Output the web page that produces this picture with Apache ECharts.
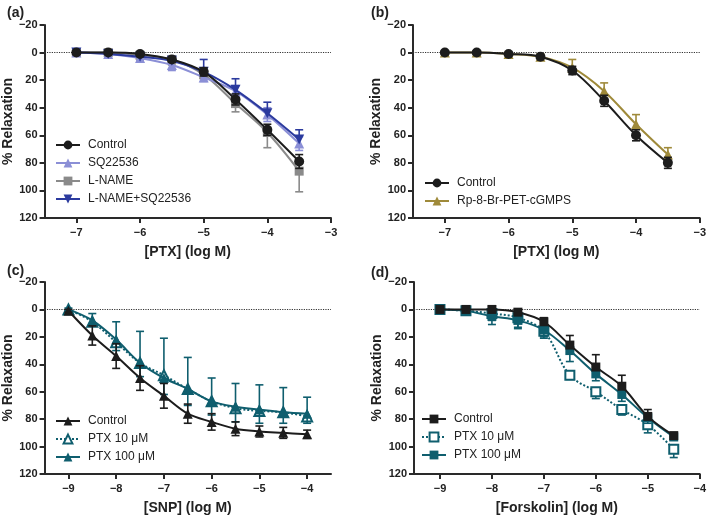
<!DOCTYPE html>
<html><head><meta charset="utf-8">
<script src="https://cdn.jsdelivr.net/npm/echarts@6/dist/echarts.min.js"></script>
<style>html,body{margin:0;padding:0;background:#fff}#c{width:709px;height:519px}</style>
</head><body><div id="c"></div>
<script>
// ---------- DATA ----------
// Panel (a)
const xA = [-7, -6.5, -6, -5.5, -5, -4.5, -4, -3.5];
const aControl = [0, 0, 1, 5, 14, 34, 56, 79];
const aControlErr = [1, 1, 1, 2, 3, 4, 4, 5];
const aSQ = [0, 1, 4, 9, 18, 28, 45, 66];
const aSQErr = [1, 1, 2, 4, 3, 4, 5, 5];
const aLNAME = [0, 0, 2, 5, 16, 37, 58, 86];
const aLNAMEErr = [1, 1, 1, 4, 3, 6, 11, 15];
const aLNSQ = [0, 1, 3, 6, 14, 27, 44, 63];
const aLNSQErr = [1, 1, 2, 3, 9, 8, 8, 7];
// Panel (b)
const xB = [-7, -6.5, -6, -5.5, -5, -4.5, -4, -3.5];
const bControl = [0, 0, 1, 3, 13, 35, 60, 80];
const bControlErr = [1, 1, 1, 1, 3, 4, 4, 4];
const bRp = [0, 0, 1, 3, 11, 28, 52, 74];
const bRpErr = [1, 1, 1, 2, 6, 6, 7, 5];
// Panel (c)
const xC = [-9, -8.5, -8, -7.5, -7, -6.5, -6, -5.5, -5, -4.5, -4];
const cControl = [1, 19, 34, 50, 63, 76, 82, 87, 89, 90, 91];
const cControlErr = [1, 7, 9, 9, 9, 7, 6, 5, 4, 4, 3];
const cPTX10 = [0, 9, 24, 39, 48, 58, 67, 72, 74, 75, 78];
const cPTX10Err = [1, 6, 15, 23, 27, 23, 17, 18, 19, 18, 14];
const cPTX100 = [0, 8, 22, 39, 50, 58, 67, 71, 73, 75, 76];
const cPTX100Err = [1, 4, 8, 10, 12, 12, 10, 11, 10, 8, 7];
// Panel (d)
const xD = [-9, -8.5, -8, -7.5, -7, -6.5, -6, -5.5, -5, -4.5];
const dControl = [0, 0, 0, 2, 9, 26, 42, 56, 78, 92];
const dControlErr = [1, 1, 2, 2, 3, 7, 9, 8, 5, 2];
const dPTX10 = [0, 1, 3, 6, 16, 48, 60, 73, 84, 102];
const dPTX10Err = [1, 1, 5, 7, 5, 3, 5, 4, 6, 6];
const dPTX100 = [0, 1, 5, 8, 15, 30, 47, 62, 79, 93];
const dPTX100Err = [1, 1, 6, 6, 5, 8, 5, 5, 4, 2];
// Tick labels
const yTicks = [-20, 0, 20, 40, 60, 80, 100, 120];
const xTicksAB = [-7, -6, -5, -4, -3];
const xTicksC = [-9, -8, -7, -6, -5, -4];
const xTicksD = [-9, -8, -7, -6, -5, -4];

// ---------- STYLE ----------
const BLACK = '#1c1c1c', PURPLE = '#8b8fd6', GRAY = '#8a8a8a', BLUE = '#2b3a9e', OLIVE = '#9f8a3a', TEAL = '#0f5e6e';
const AX = '#2a2a2a';
const FONT = 'Liberation Sans, Arial, Helvetica, sans-serif';
const INV_TRI = 'path://M0,0L10,0L5,9Z';
const fmt = v => String(v).replace('-', '\u2212');

const panels = [
  { title: '(a)', tPos: { left: 2, top: 1 }, grid: { left: 43, top: 25, width: 288, height: 193 },
    xMin: -7.5, xMax: -3, xTicks: xTicksAB, xName: '[PTX] (log M)', legend: { left: 55, top: 138 },
    series: [
      { name: 'a|Control', x: xA, y: aControl, e: aControlErr, side: 'both', color: BLACK, symbol: 'circle', z: 6 },
      { name: 'a|SQ22536', x: xA, y: aSQ, e: aSQErr, side: 'both', color: PURPLE, symbol: 'triangle', z: 4 },
      { name: 'a|L-NAME', x: xA, y: aLNAME, e: aLNAMEErr, side: 'down', color: GRAY, symbol: 'rect', z: 3 },
      { name: 'a|L-NAME+SQ22536', x: xA, y: aLNSQ, e: aLNSQErr, side: 'up', color: BLUE, symbol: INV_TRI, z: 5 }
    ] },
  { title: '(b)', tPos: { left: 366, top: 1 }, grid: { left: 413, top: 25, width: 288, height: 193 },
    xMin: -7.5, xMax: -3, xTicks: xTicksAB, xName: '[PTX] (log M)', legend: { left: 424, top: 176 },
    series: [
      { name: 'b|Control', x: xB, y: bControl, e: bControlErr, side: 'both', color: BLACK, symbol: 'circle', z: 6 },
      { name: 'b|Rp-8-Br-PET-cGMPS', x: xB, y: bRp, e: bRpErr, side: 'up', color: OLIVE, symbol: 'triangle', z: 4 }
    ] },
  { title: '(c)', tPos: { left: 2, top: 259 }, grid: { left: 43, top: 282, width: 288, height: 192 },
    xMin: -9.5, xMax: -3.5, xTicks: xTicksC, xName: '[SNP] (log M)', legend: { left: 55, top: 414 },
    series: [
      { name: 'c|Control', x: xC, y: cControl, e: cControlErr, side: 'both', color: BLACK, symbol: 'triangle', z: 6 },
      { name: 'c|PTX 10 \u03bcM', x: xC, y: cPTX10, e: cPTX10Err, side: 'up', color: TEAL, symbol: 'emptyTriangle', dotted: true, z: 4 },
      { name: 'c|PTX 100 \u03bcM', x: xC, y: cPTX100, e: cPTX100Err, side: 'down', color: TEAL, symbol: 'triangle', z: 5 }
    ] },
  { title: '(d)', tPos: { left: 366, top: 261 }, grid: { left: 414, top: 282, width: 287, height: 192 },
    xMin: -9.5, xMax: -4, xTicks: xTicksD, xName: '[Forskolin] (log M)', legend: { left: 421, top: 412 },
    series: [
      { name: 'd|Control', x: xD, y: dControl, e: dControlErr, side: 'up', color: BLACK, symbol: 'rect', z: 6 },
      { name: 'd|PTX 10 \u03bcM', x: xD, y: dPTX10, e: dPTX10Err, side: 'down', color: TEAL, symbol: 'emptyRect', dotted: true, z: 4 },
      { name: 'd|PTX 100 \u03bcM', x: xD, y: dPTX100, e: dPTX100Err, side: 'down', color: TEAL, symbol: 'rect', z: 5 }
    ] }
];

const option = {
  animation: false,
  backgroundColor: '#fff',
  textStyle: { fontFamily: FONT },
  title: [], grid: [], xAxis: [], yAxis: [], legend: [], series: []
};

panels.forEach((p, i) => {
  option.title.push({ text: p.title, left: p.tPos.left, top: p.tPos.top,
    textStyle: { fontSize: 14, fontWeight: 'bold', color: '#222', fontFamily: FONT } });
  option.grid.push(p.grid);
  option.xAxis.push({
    gridIndex: i, type: 'value', min: p.xMin, max: p.xMax,
    axisLine: { show: true, onZero: false, lineStyle: { color: AX, width: 2 } },
    axisTick: { show: true, customValues: p.xTicks, length: 5, lineStyle: { color: AX, width: 2 } },
    axisLabel: { customValues: p.xTicks, formatter: fmt, color: '#222', fontWeight: 'bold', fontSize: 11, margin: 9, fontFamily: FONT },
    splitLine: { show: false },
    name: p.xName, nameLocation: 'middle', nameGap: 27,
    nameTextStyle: { fontWeight: 'bold', fontSize: 14, color: '#222', fontFamily: FONT }
  });
  option.yAxis.push({
    gridIndex: i, type: 'value', inverse: true, min: -20, max: 120, interval: 20,
    axisLine: { show: true, onZero: false, lineStyle: { color: AX, width: 2 } },
    axisTick: { show: true, length: 5, lineStyle: { color: AX, width: 2 } },
    axisLabel: { formatter: fmt, color: '#222', fontWeight: 'bold', fontSize: 11, margin: 7, fontFamily: FONT },
    splitLine: { show: false },
    name: '% Relaxation', nameLocation: 'middle', nameGap: 27,
    nameTextStyle: { fontWeight: 'bold', fontSize: 14, color: '#222', fontFamily: FONT }
  });
  option.legend.push({
    orient: 'vertical', left: p.legend.left, top: p.legend.top, selectedMode: false,
    itemWidth: 24, itemHeight: 11, itemGap: 4, padding: 0,
    data: p.series.map(s => s.name),
    formatter: n => n.split('|')[1],
    textStyle: { fontSize: 12, color: '#222', lineHeight: 14, padding: [0, 0, 0, 3], fontFamily: FONT }
  });
  p.series.forEach((s, k) => {
    const ser = {
      type: 'line', name: s.name, xAxisIndex: i, yAxisIndex: i, z: s.z,
      data: s.x.map((xv, j) => [xv, s.y[j]]),
      smooth: 0.35, symbol: s.symbol, symbolSize: s.symbol === 'rect' || s.symbol === 'emptyRect' ? 9 : 10,
      showAllSymbol: true,
      lineStyle: { color: s.color, width: 2, type: s.dotted ? 'dotted' : 'solid' },
      itemStyle: s.symbol.indexOf('empty') === 0
        ? { color: s.color, borderColor: s.color, borderWidth: 2 }
        : { color: s.color, borderWidth: 0 },
      emphasis: { disabled: true }
    };
    if (k === 0) {
      ser.markLine = { silent: true, symbol: 'none', label: { show: false },
        lineStyle: { type: 'dotted', color: '#333', width: 1.2 }, data: [{ yAxis: 0 }] };
    }
    option.series.push(ser);
    const side = s.side, color = s.color;
    option.series.push({
      type: 'custom', xAxisIndex: i, yAxisIndex: i, z: s.z - 0.5, silent: true,
      encode: { x: 0, y: 1 },
      data: s.x.map((xv, j) => [xv, s.y[j], s.e[j]]),
      renderItem: (params, api) => {
        const x = api.value(0), y = api.value(1), e = api.value(2);
        const top = side === 'down' ? y : y - e;
        const bot = side === 'up' ? y : y + e;
        const p1 = api.coord([x, top]), p2 = api.coord([x, bot]);
        const st = { stroke: color, lineWidth: 1.6 };
        const ch = [{ type: 'line', shape: { x1: p1[0], y1: p1[1], x2: p2[0], y2: p2[1] }, style: st }];
        if (side !== 'down') ch.push({ type: 'line', shape: { x1: p1[0] - 4, y1: p1[1], x2: p1[0] + 4, y2: p1[1] }, style: st });
        if (side !== 'up') ch.push({ type: 'line', shape: { x1: p2[0] - 4, y1: p2[1], x2: p2[0] + 4, y2: p2[1] }, style: st });
        return { type: 'group', children: ch };
      }
    });
  });
});

const chart = echarts.init(document.getElementById('c'), null, { renderer: 'canvas' });
chart.setOption(option);
</script>
</body></html>
